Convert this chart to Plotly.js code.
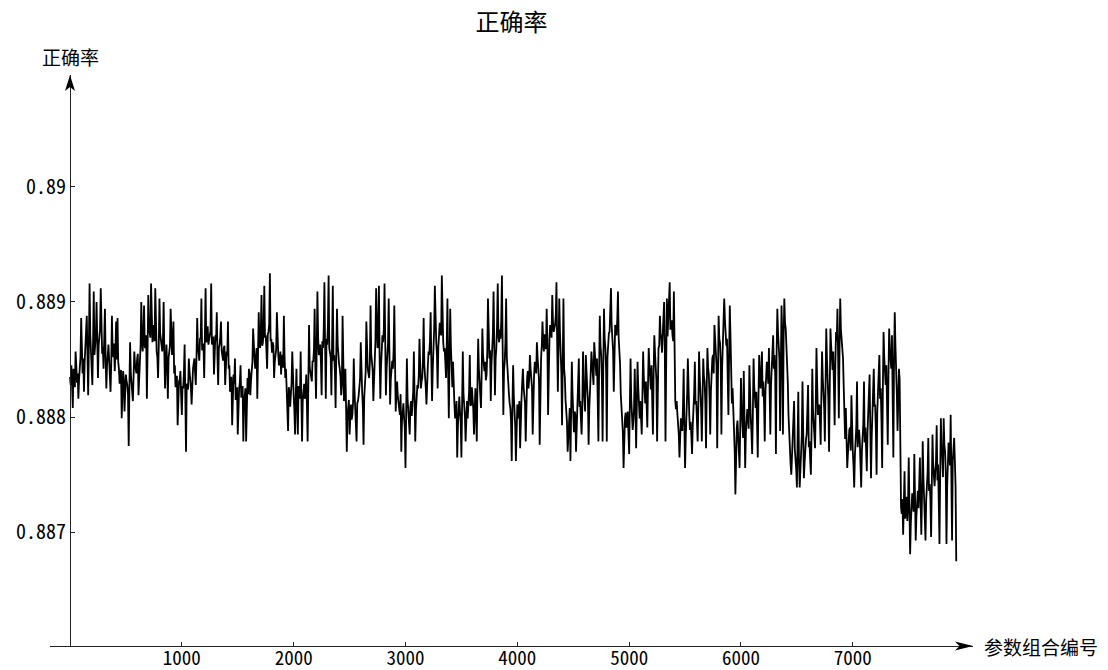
<!DOCTYPE html>
<html>
<head>
<meta charset="utf-8">
<script src="https://cdn.plot.ly/plotly-3.0.1.min.js"></script>
<style>html,body{margin:0;padding:0;background:#fff;}#chart{width:1108px;height:670px;}</style>
</head>
<body>
<div id="chart"></div>
<script>
// x step between plotted samples (parameter-combination index units)
const STEP = 6.25;

// accuracy values, one pair of arrays per cycle of the curve:
// segNN = visible stroke ends, midNN = values inside the dense band between them
const seg00 = [0.88835,0.88845,0.88808,0.88838,0.88857,0.8883,0.88816,0.88845,0.88886,0.88838,0.88822,0.8886,0.88888,0.88819,0.88916,0.8886,0.88828,0.88909,0.88862,0.889,0.88834,0.88868,0.88912,0.88855,0.88842,0.88894,0.88825,0.88857,0.8885,0.88822,0.88888,0.88852,0.8884,0.88883];
const mid00 = [0.88828,0.8883,0.88842,0.88826,0.88845,0.88838,0.88833,0.88852,0.88844,0.88851,0.88848,0.88866,0.88855,0.88862,0.88872,0.88849,0.88866,0.88854,0.88871,0.88858,0.88862,0.88877,0.88866,0.88861,0.88869,0.88851,0.88845,0.88863,0.88838,0.88846,0.88858,0.88864,0.88857,0.8885];
const seg01 = [0.88886,0.88842,0.88834,0.88799,0.8884,0.88805,0.88837,0.88828,0.88775,0.88865,0.88831,0.88814,0.88857,0.88842,0.8885,0.88819,0.88848,0.889,0.88857,0.88897,0.8886,0.88816,0.88906,0.88871,0.88916,0.88865,0.88874,0.88912,0.88857,0.88834,0.88903,0.88865,0.88857,0.889,0.88825,0.88863,0.88816,0.8886,0.88894,0.88854];
const mid01 = [0.88848,0.88829,0.88841,0.88825,0.88833,0.88822,0.88831,0.88819,0.88826,0.88838,0.88827,0.88836,0.88846,0.88838,0.88855,0.88844,0.88862,0.88866,0.88874,0.88861,0.88871,0.88858,0.88878,0.88869,0.88874,0.8888,0.88866,0.88872,0.88852,0.88861,0.88873,0.88859,0.88868,0.88855,0.88849,0.88846,0.88851,0.88862,0.88857,0.88868];
const seg02 = [0.88883,0.88845,0.88834,0.88793,0.88831,0.8884,0.88802,0.88825,0.88863,0.8877,0.88828,0.88851,0.88834,0.88811,0.88842,0.88851,0.88828,0.88886,0.88857,0.88868,0.88903,0.8886,0.88834,0.88912,0.88871,0.88863,0.88874,0.88916,0.88868,0.88837,0.88871,0.88891,0.88828,0.88863,0.88883,0.88854,0.8886,0.88828,0.88857,0.88883];
const mid02 = [0.88838,0.88826,0.88836,0.88821,0.88833,0.88819,0.88827,0.88839,0.88818,0.88829,0.88824,0.8884,0.88826,0.88834,0.88847,0.88838,0.88852,0.88862,0.88849,0.88869,0.88858,0.88864,0.88872,0.88865,0.88879,0.88868,0.88875,0.88863,0.8887,0.88856,0.88866,0.88852,0.8886,0.8887,0.88858,0.88849,0.88862,0.88845,0.88853,0.88842];
const seg03 = [0.88845,0.88831,0.88793,0.88837,0.88851,0.88822,0.88785,0.88825,0.88845,0.88819,0.88779,0.88822,0.88779,0.88834,0.88842,0.88819,0.88845,0.88877,0.88851,0.88857,0.88816,0.88891,0.8886,0.88906,0.88865,0.88914,0.88871,0.88842,0.88874,0.88925,0.88868,0.88865,0.88834,0.88857,0.88891,0.88854,0.88848,0.88837,0.88854,0.88888];
const mid03 = [0.88822,0.88835,0.88818,0.88829,0.88815,0.88826,0.88812,0.8883,0.88817,0.88827,0.88813,0.88825,0.88831,0.8882,0.88838,0.88832,0.88848,0.88856,0.88842,0.8886,0.88849,0.88866,0.88875,0.88862,0.88878,0.88869,0.88859,0.88872,0.88881,0.88866,0.88856,0.88862,0.88848,0.88859,0.88866,0.88845,0.88857,0.88851,0.88843,0.88852];
const seg04 = [0.88834,0.88822,0.88788,0.88822,0.88816,0.88857,0.88819,0.88785,0.88842,0.88785,0.88822,0.88857,0.88779,0.88825,0.88816,0.88837,0.88779,0.8888,0.8884,0.88831,0.88848,0.88894,0.88816,0.88909,0.88854,0.88863,0.88819,0.8886,0.88917,0.88816,0.88863,0.88923,0.88857,0.88819,0.88914,0.88854,0.88808,0.88894,0.88851,0.88842];
const mid04 = [0.88842,0.88812,0.88826,0.88809,0.8883,0.88823,0.88806,0.88818,0.88811,0.88827,0.88816,0.88821,0.88814,0.88829,0.8882,0.88812,0.88828,0.88843,0.88835,0.88849,0.88858,0.88845,0.88861,0.8887,0.88857,0.88848,0.88866,0.88875,0.88862,0.88868,0.88879,0.8886,0.88852,0.88866,0.88849,0.8884,0.88856,0.88863,0.88846,0.88835];
const seg05 = [0.88819,0.88888,0.88814,0.88842,0.8877,0.88808,0.88785,0.88811,0.88802,0.88851,0.88808,0.88779,0.88814,0.88825,0.88865,0.88822,0.88776,0.88831,0.88883,0.88842,0.88834,0.88897,0.88848,0.88814,0.88854,0.88912,0.8886,0.88914,0.88816,0.88857,0.88865,0.88916,0.88819,0.88854,0.88903,0.88811,0.88848,0.88842,0.88897,0.88805];
const mid05 = [0.88828,0.88836,0.88822,0.88809,0.88801,0.88815,0.88806,0.88798,0.88813,0.88824,0.88803,0.88812,0.88819,0.88833,0.88826,0.88809,0.88818,0.88839,0.88852,0.88838,0.88847,0.88855,0.88841,0.88836,0.88866,0.88873,0.88862,0.88851,0.88844,0.88871,0.88876,0.88858,0.88842,0.88864,0.88852,0.88833,0.88849,0.88858,0.88843,0.8882];
const seg06 = [0.88831,0.88811,0.88802,0.8877,0.88808,0.88799,0.88756,0.88851,0.88805,0.88785,0.88814,0.88808,0.88857,0.88779,0.88819,0.88825,0.88868,0.88825,0.88834,0.88886,0.88837,0.88811,0.88845,0.88854,0.88891,0.88814,0.8886,0.88914,0.88865,0.88825,0.88868,0.88874,0.88923,0.88865,0.8886,0.88834,0.88903,0.88799,0.88894,0.88837];
const mid06 = [0.88818,0.88805,0.8882,0.88797,0.88812,0.88791,0.88804,0.88816,0.88796,0.88809,0.88801,0.88822,0.88814,0.88806,0.88828,0.88836,0.88842,0.88831,0.8885,0.88845,0.88826,0.88838,0.88857,0.88866,0.88848,0.88842,0.88876,0.88868,0.88854,0.88861,0.88882,0.88871,0.88879,0.88857,0.88848,0.88862,0.8884,0.88852,0.88861,0.88826];
const seg07 = [0.88848,0.88811,0.88802,0.88765,0.88808,0.88805,0.88765,0.88857,0.88811,0.88779,0.88814,0.88808,0.88854,0.88811,0.88819,0.88785,0.88825,0.88779,0.88868,0.88831,0.88808,0.88877,0.88842,0.88848,0.88837,0.88903,0.88851,0.88814,0.88857,0.88909,0.88819,0.8886,0.88916,0.88865,0.88868,0.88923,0.88802,0.88848,0.88903,0.88837];
const mid07 = [0.88822,0.88799,0.88814,0.88792,0.88818,0.88796,0.8881,0.8882,0.88801,0.88812,0.88799,0.88823,0.8881,0.88826,0.88807,0.88815,0.88803,0.8883,0.88842,0.88826,0.88838,0.88853,0.8884,0.88832,0.88856,0.8887,0.88858,0.88845,0.88872,0.88863,0.88851,0.8888,0.8887,0.88876,0.88884,0.88862,0.88841,0.88866,0.88852,0.88828];
const seg08 = [0.8882,0.88808,0.88762,0.88845,0.88805,0.88762,0.88811,0.88805,0.88773,0.88816,0.88842,0.88819,0.88779,0.88834,0.88825,0.88854,0.88831,0.88785,0.88837,0.88845,0.88865,0.8884,0.88776,0.88851,0.88883,0.88857,0.88865,0.88894,0.88802,0.88868,0.88877,0.88906,0.88874,0.8888,0.88917,0.88822,0.88903,0.88857,0.88793,0.88903];
const mid08 = [0.88812,0.88796,0.88809,0.88818,0.88792,0.88808,0.88799,0.88814,0.88806,0.8883,0.88826,0.88812,0.88828,0.8884,0.88833,0.88842,0.88826,0.88836,0.88848,0.88838,0.88852,0.88833,0.88846,0.88862,0.88866,0.88872,0.88859,0.88864,0.8885,0.8888,0.88869,0.88883,0.88877,0.88888,0.88865,0.88862,0.88874,0.88839,0.88856,0.88842];
const seg09 = [0.88834,0.88808,0.8877,0.88799,0.88762,0.88848,0.88799,0.88805,0.8877,0.88808,0.88851,0.88814,0.88785,0.88857,0.88819,0.88854,0.88825,0.88776,0.88834,0.88857,0.8884,0.88865,0.88842,0.88851,0.88779,0.88888,0.88854,0.88779,0.88894,0.8886,0.88779,0.88868,0.88874,0.88912,0.88871,0.88822,0.8888,0.88871,0.88909,0.88857];
const mid09 = [0.88815,0.88796,0.88789,0.88808,0.88795,0.8882,0.88787,0.88802,0.88794,0.88822,0.88809,0.88798,0.8881,0.88826,0.88805,0.88829,0.88815,0.88808,0.88838,0.88845,0.88828,0.88851,0.88836,0.88824,0.8884,0.88862,0.88833,0.88846,0.88868,0.88841,0.88852,0.88873,0.88888,0.88879,0.88858,0.88866,0.88877,0.88885,0.88869,0.88846];
const seg10 = [0.8882,0.88802,0.88756,0.88799,0.88791,0.88805,0.88768,0.88851,0.88802,0.88796,0.88842,0.88773,0.88848,0.88808,0.88814,0.88785,0.88857,0.88822,0.88831,0.88791,0.8886,0.88837,0.88845,0.88785,0.88871,0.88848,0.88779,0.8886,0.88888,0.88868,0.88877,0.889,0.88779,0.88903,0.88883,0.88917,0.8888,0.88871,0.88909,0.88814];
const mid10 = [0.88808,0.88787,0.88782,0.88804,0.88793,0.88786,0.88811,0.88816,0.88789,0.88808,0.88798,0.88812,0.88826,0.88799,0.88803,0.8882,0.88834,0.88812,0.88816,0.88829,0.88845,0.88824,0.88822,0.88838,0.88856,0.88832,0.88843,0.88862,0.88872,0.88856,0.8888,0.88858,0.88847,0.8887,0.88892,0.88876,0.88884,0.88866,0.88855,0.88807];
const seg11 = [0.88814,0.88796,0.88765,0.88799,0.88788,0.88842,0.88756,0.88796,0.88851,0.88802,0.88796,0.88768,0.88805,0.88848,0.88814,0.88779,0.88857,0.88825,0.88779,0.88851,0.88831,0.88773,0.8886,0.88837,0.88785,0.88845,0.88854,0.8888,0.8886,0.88773,0.88888,0.88865,0.88785,0.88871,0.88903,0.88874,0.88868,0.88802,0.88897,0.88851];
const mid11 = [0.88803,0.88785,0.88781,0.88795,0.88809,0.88792,0.88784,0.8882,0.88806,0.88789,0.88784,0.88793,0.88821,0.88811,0.88797,0.8881,0.88836,0.88806,0.88818,0.88835,0.88812,0.88826,0.88843,0.88818,0.88823,0.88851,0.88838,0.88864,0.88845,0.8883,0.88868,0.88848,0.88842,0.88877,0.88885,0.88862,0.88844,0.88853,0.8887,0.88812];
const seg12 = [0.88825,0.88799,0.88733,0.88791,0.88785,0.88756,0.88834,0.88791,0.8884,0.88756,0.88796,0.88802,0.88845,0.88799,0.88768,0.88851,0.88814,0.88822,0.88765,0.88854,0.88825,0.88857,0.88831,0.88779,0.88837,0.88842,0.8886,0.88785,0.88848,0.88871,0.88854,0.88768,0.88894,0.88865,0.88788,0.88897,0.88785,0.88903,0.88877,0.88851];
const mid12 = [0.88806,0.88771,0.88776,0.88797,0.88768,0.88794,0.88806,0.88782,0.88801,0.88786,0.88807,0.8879,0.88812,0.88786,0.88804,0.88826,0.88808,0.88798,0.88816,0.88833,0.8884,0.88818,0.88812,0.88822,0.88848,0.88829,0.88835,0.88828,0.88859,0.88842,0.88836,0.88856,0.88874,0.8885,0.88858,0.88872,0.88868,0.88882,0.88862,0.8883];
const seg13 = [0.88802,0.88768,0.8875,0.88773,0.88814,0.88765,0.88739,0.88822,0.88739,0.88768,0.88831,0.88747,0.88776,0.88785,0.88828,0.88779,0.8875,0.88842,0.88793,0.88773,0.8886,0.88802,0.88811,0.88776,0.88857,0.88822,0.88779,0.88877,0.88834,0.8877,0.88877,0.88848,0.88857,0.88793,0.88874,0.88894,0.88799,0.88903,0.88868,0.88851];
const mid13 = [0.88781,0.88759,0.88766,0.88788,0.88772,0.88755,0.88776,0.88762,0.88754,0.88784,0.88769,0.8876,0.88781,0.88802,0.88774,0.88763,0.88789,0.88807,0.88784,0.88812,0.8883,0.88806,0.88796,0.88819,0.88834,0.88808,0.88828,0.88851,0.88815,0.88838,0.88862,0.88841,0.88829,0.88846,0.88866,0.88852,0.88859,0.88876,0.88859,0.88826];
const seg14 = [0.88799,0.88808,0.88756,0.8878,0.88791,0.88819,0.8877,0.88739,0.88776,0.88831,0.88785,0.88779,0.88739,0.88788,0.88831,0.88791,0.88753,0.88799,0.88837,0.88747,0.88805,0.88842,0.88811,0.8875,0.88819,0.88854,0.88825,0.88756,0.88874,0.88837,0.88845,0.88776,0.88877,0.88848,0.88871,0.88765,0.88891,0.88848,0.88788,0.88842];
const mid14 = [0.88781,0.88772,0.88768,0.88789,0.88771,0.88785,0.88758,0.88767,0.88792,0.88774,0.88789,0.88762,0.88771,0.88794,0.88778,0.88766,0.88786,0.88812,0.88791,0.88782,0.8882,0.88809,0.88788,0.88805,0.88833,0.88816,0.88797,0.88826,0.88852,0.88828,0.88812,0.88836,0.88858,0.88842,0.88826,0.8885,0.88862,0.8882,0.88838,0.88833];
const seg15 = [0.88739,0.88716,0.88698,0.88753,0.88724,0.8871,0.88765,0.88681,0.88721,0.88727,0.88768,0.88693,0.88727,0.88721,0.88765,0.88698,0.88779,0.88733,0.88693,0.88739,0.88782,0.88742,0.88696,0.88785,0.88747,0.88753,0.88793,0.88759,0.8869,0.88799,0.88765,0.88799,0.8877,0.8869,0.88768,0.88773,0.88802,0.88693,0.88773,0.88762,0.88675];
const mid15 = [0.88722,0.88729,0.88719,0.88712,0.88731,0.88724,0.88714,0.88708,0.88734,0.88718,0.8873,0.88714,0.88736,0.88742,0.88726,0.88731,0.88748,0.88719,0.88728,0.88752,0.88736,0.88729,0.88744,0.88758,0.8874,0.88762,0.88745,0.88736,0.88751,0.88771,0.88748,0.88776,0.88752,0.8874,0.88778,0.88758,0.88746,0.88762,0.88782,0.88741];

// tick labels
const xTickVals = [1000,2000,3000,4000,5000,6000,7000];
const xTickText = ['1000','2000','3000','4000','5000','6000','7000'];
const yTickVals = [0.887,0.888,0.889,0.89];
const yTickText = ['0.887','0.888','0.889','0.89'];

const titleText = '正确率';
const yLabel = '正确率';
const xLabel = '参数组合编号';

const segs = [seg00,seg01,seg02,seg03,seg04,seg05,seg06,seg07,seg08,seg09,seg10,seg11,seg12,seg13,seg14,seg15];
const mids = [mid00,mid01,mid02,mid03,mid04,mid05,mid06,mid07,mid08,mid09,mid10,mid11,mid12,mid13,mid14,mid15];
const yVals = [];
segs.forEach((s, k) => {
  s.forEach((v, j) => {
    yVals.push(v);
    if (j < mids[k].length) yVals.push(mids[k][j]);
  });
});
const xVals = yVals.map((_, i) => i * STEP);

const CJK = '"Noto Sans CJK SC", "Noto Sans CJK JP", sans-serif';
const MONO = '"Noto Sans Mono CJK SC", "Noto Sans Mono CJK JP", "DejaVu Sans Mono", monospace';

const trace = {
  x: xVals, y: yVals, type: 'scatter', mode: 'lines',
  line: {color: '#000', width: 1.8}, hoverinfo: 'skip'
};

const layout = {
  width: 1108, height: 670,
  margin: {l: 50, r: 135, t: 75, b: 24, pad: 0},
  paper_bgcolor: '#fff', plot_bgcolor: '#fff',
  showlegend: false,
  title: {text: titleText, xref: 'paper', x: 0.5, xanchor: 'center', yref: 'container', y: 0.966, yanchor: 'middle',
          font: {family: CJK, size: 24, color: '#000'}},
  xaxis: {
    range: [-178.8, 8074.7], showgrid: false, zeroline: false,
    showline: true, linecolor: '#222', linewidth: 1,
    ticks: 'inside', ticklen: 4, tickcolor: '#222', tickwidth: 1,
    tickvals: xTickVals, ticktext: xTickText, ticklabelstandoff: -5,
    tickfont: {family: MONO, size: 19, color: '#000'}
  },
  yaxis: {
    range: [0.886014, 0.89097], anchor: 'free', position: 20/923,
    showgrid: false, zeroline: false,
    showline: true, linecolor: '#222', linewidth: 1,
    ticks: 'inside', ticklen: 4, tickcolor: '#222', tickwidth: 1,
    tickvals: yTickVals, ticktext: yTickText,
    tickfont: {family: MONO, size: 20, color: '#000'}
  },
  shapes: [
    {type: 'path', xref: 'x', yref: 'paper', xsizemode: 'pixel', ysizemode: 'pixel', xanchor: 0, yanchor: 1,
     path: 'M0,0 L-5,-16 L0,-12 L5,-16 Z', fillcolor: '#000', line: {width: 0}},
    {type: 'path', xref: 'paper', yref: 'paper', xsizemode: 'pixel', ysizemode: 'pixel', xanchor: 1, yanchor: 0,
     path: 'M0,0 L-18,4.5 L-13.5,0 L-18,-4.5 Z', fillcolor: '#000', line: {width: 0}}
  ],
  annotations: [
    {text: yLabel, xref: 'x', x: 0, yref: 'paper', y: 1, yshift: 19, xanchor: 'center', yanchor: 'middle',
     showarrow: false, font: {family: CJK, size: 19, color: '#000'}},
    {text: xLabel, xref: 'paper', x: 1, xshift: 9, yref: 'paper', y: 0, xanchor: 'left', yanchor: 'middle',
     showarrow: false, font: {family: CJK, size: 19, color: '#000'}}
  ],
  hovermode: false
};

Plotly.newPlot('chart', [trace], layout, {displayModeBar: false, staticPlot: true});
</script>
</body>
</html>
